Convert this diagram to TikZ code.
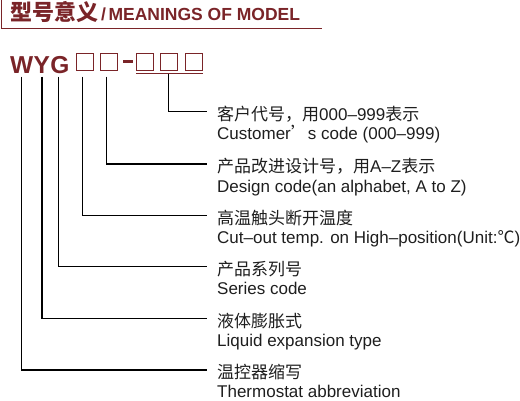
\documentclass[tikz,border=0pt]{standalone}
\usepackage{fontspec}
\usetikzlibrary{positioning}
\setmainfont{Liberation Sans}
\newfontfamily\cjk{Noto Sans CJK SC}
\definecolor{modelred}{RGB}{122,36,40}
\definecolor{txtblack}{RGB}{30,30,30}

\tikzset{
  modelch/.style={font=\bfseries\fontsize{24.5}{26}\selectfont, text=modelred, inner sep=0pt},
  modelbox/.style={draw=modelred, line width=1.1pt, minimum width=17pt, minimum height=17.4pt, inner sep=0pt},
  cnlbl/.style={font=\fontsize{17}{19}\selectfont, text=txtblack, inner sep=0pt, anchor=west},
  enlbl/.style={font=\fontsize{17}{19}\selectfont, text=txtblack, inner sep=0pt, anchor=base west},
  lead/.style={line width=1.3pt, shorten >=10pt}
}

\begin{document}
\begin{tikzpicture}[x=1pt, y=-1pt]
  \useasboundingbox (0,0) rectangle (520,400);

  \node[anchor=base west, inner sep=0pt, text=modelred, font=\bfseries\fontsize{17.5}{20}\selectfont] (title) at (10,20.5)
    {{\cjk\fontsize{22}{24}\selectfont 型号意义}\hspace{3pt}/\hspace{2.5pt}MEANINGS OF MODEL};
  \draw[modelred, line width=1.3pt] (1.7,0) -- (1.7,28.3) -- (322,28.3);

  \node[modelch, anchor=base west] (W) at (10,73.3) {W};
  \node[modelch, base right=0pt of W] (Y) {Y};
  \node[modelch, base right=0pt of Y] (G) {G};

  \node[modelbox] (b1) at (85.3,62) {};
  \node[modelbox] (b2) at (108.7,62) {};
  \draw[modelred, line width=2.7pt] (123,61.7) -- (133,61.7);
  \node[modelbox] (b3) at (145,62) {};
  \node[modelbox] (b4) at (168.7,62) {};
  \node[modelbox] (b5) at (194.3,62) {};
  \draw[modelred, line width=1.2pt] ([yshift=-2.6pt]b3.south west) -- ([yshift=-2.6pt]b5.south east);
  \coordinate (under) at ([yshift=-2.6pt]b4.south);
  \coordinate (top) at (0,76.7);

  \node[cnlbl] (custcn) at (217,114.2) {{\cjk 客户代号，用}000–999{\cjk 表示}};
  \node[enlbl] (custen) at ([yshift=-25.5pt]custcn.west) {Customer{\cjk ’}s code (000–999)};

  \node[cnlbl] (desigcn) at (217,166.5) {{\cjk 产品改进设计号，用}A–Z{\cjk 表示}};
  \node[enlbl] (desigen) at ([yshift=-25.5pt]desigcn.west) {Design code(an alphabet, A to Z)};

  \node[cnlbl] (cutcn) at (217,218.2) {\cjk 高温触头断开温度};
  \node[enlbl] (cuten) at ([yshift=-25.5pt]cutcn.west) {Cut–out temp. on High–position(Unit:{\cjk ℃})};

  \node[cnlbl] (sercn) at (217,269.2) {\cjk 产品系列号};
  \node[enlbl] (seren) at ([yshift=-25.5pt]sercn.west) {Series code};

  \node[cnlbl] (liqcn) at (217,320.8) {\cjk 液体膨胀式};
  \node[enlbl] (liqen) at ([yshift=-25.5pt]liqcn.west) {Liquid expansion type};

  \node[cnlbl] (thermcn) at (217,372) {\cjk 温控器缩写};
  \node[enlbl] (thermen) at ([yshift=-25.5pt]thermcn.west) {Thermostat abbreviation};

  \draw[lead] (under) |- ([yshift=2.5pt]custcn.west);
  \draw[lead] ([xshift=-2.5pt]b2.south |- top) |- ([yshift=2.5pt]desigcn.west);
  \draw[lead] ([xshift=-2.5pt]b1.south |- top) |- ([yshift=2.5pt]cutcn.west);
  \draw[lead] ([xshift=-1.3pt]G.south |- top) |- ([yshift=2.5pt]sercn.west);
  \draw[lead] (Y.south |- top) |- ([yshift=2.5pt]liqcn.west);
  \draw[lead] (W.south |- top) |- ([yshift=2pt]thermcn.west);
\end{tikzpicture}
\end{document}
